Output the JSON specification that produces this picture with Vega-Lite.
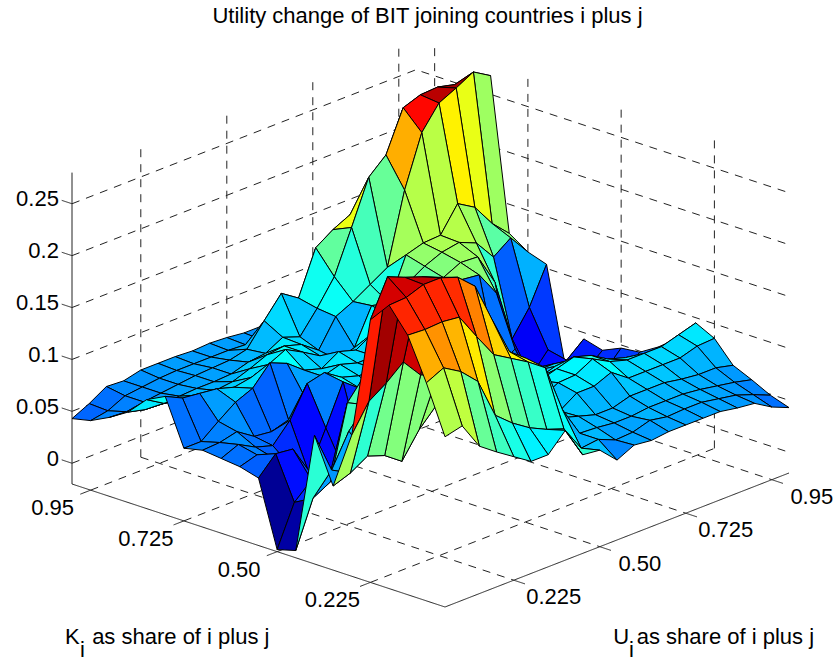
{"$schema":"https://vega.github.io/schema/vega-lite/v6.json","width":833,"height":661,"autosize":"none","padding":0,"background":"white","view":{"stroke":null},
"title":{"text":"Utility change of BIT joining countries i plus j","font":"Liberation Sans","fontSize":22,"fontWeight":"normal","color":"#000","anchor":"middle","dx":11,"offset":-28},
"datasets":{
"grid":[
{"id":20,"z":0.2},{"id":19,"z":0.18},{"id":18,"z":0.15},{"id":17,"z":0.12},{"id":16,"z":0.1},{"id":15,"z":0.08},{"id":14,"z":0.07},{"id":13,"z":0.06},{"id":12,"z":0.06},{"id":11,"z":0.061},{"id":10,"z":0.061},{"id":9,"z":0.063},{"id":8,"z":0.064},{"id":7,"z":0.063},{"id":6,"z":0.064},{"id":5,"z":0.064},{"id":4,"z":0.064},{"id":3,"z":0.06},{"id":2,"z":0.061},{"id":1,"z":0.051},{"id":0,"z":0.043},
{"id":120,"z":0.19},{"id":119,"z":0.18},{"id":118,"z":0.17},{"id":117,"z":0.14},{"id":116,"z":0.12},{"id":115,"z":0.1},{"id":114,"z":0.09},{"id":113,"z":0.08},{"id":112,"z":0.07},{"id":111,"z":0.056},{"id":110,"z":0.06},{"id":109,"z":0.062},{"id":108,"z":0.063},{"id":107,"z":0.063},{"id":106,"z":0.063},{"id":105,"z":0.063},{"id":104,"z":0.062},{"id":103,"z":0.06},{"id":102,"z":0.058},{"id":101,"z":0.05},{"id":100,"z":0.047},
{"id":220,"z":0.24},{"id":219,"z":0.24},{"id":218,"z":0.24},{"id":217,"z":0.22},{"id":216,"z":0.2},{"id":215,"z":0.18},{"id":214,"z":0.161},{"id":213,"z":0.153},{"id":212,"z":0.142},{"id":211,"z":0.1},{"id":210,"z":0.111},{"id":209,"z":0.091},{"id":208,"z":0.07},{"id":207,"z":0.066},{"id":206,"z":0.065},{"id":205,"z":0.064},{"id":204,"z":0.062},{"id":203,"z":0.06},{"id":202,"z":0.058},{"id":201,"z":0.055},{"id":200,"z":0.056},
{"id":320,"z":0.256},{"id":319,"z":0.26},{"id":318,"z":0.264},{"id":317,"z":0.263},{"id":316,"z":0.257},{"id":315,"z":0.218},{"id":314,"z":0.203},{"id":313,"z":0.161},{"id":312,"z":0.12},{"id":311,"z":0.096},{"id":310,"z":0.075},{"id":309,"z":0.081},{"id":308,"z":0.072},{"id":307,"z":0.07},{"id":306,"z":0.065},{"id":305,"z":0.064},{"id":304,"z":0.064},{"id":303,"z":0.063},{"id":302,"z":0.062},{"id":301,"z":0.063},{"id":300,"z":0.067},
{"id":420,"z":0.268},{"id":419,"z":0.278},{"id":418,"z":0.269},{"id":417,"z":0.261},{"id":416,"z":0.239},{"id":415,"z":0.19},{"id":414,"z":0.122},{"id":413,"z":0.112},{"id":412,"z":0.102},{"id":411,"z":0.094},{"id":410,"z":0.068},{"id":409,"z":0.08},{"id":408,"z":0.085},{"id":407,"z":0.083},{"id":406,"z":0.076},{"id":405,"z":0.07},{"id":404,"z":0.068},{"id":403,"z":0.07},{"id":402,"z":0.072},{"id":401,"z":0.075},{"id":400,"z":0.085},
{"id":520,"z":0.122},{"id":519,"z":0.138},{"id":518,"z":0.16},{"id":517,"z":0.17},{"id":516,"z":0.146},{"id":515,"z":0.145},{"id":514,"z":0.14},{"id":513,"z":0.1},{"id":512,"z":0.104},{"id":511,"z":0.07},{"id":510,"z":0.065},{"id":509,"z":0.075},{"id":508,"z":0.085},{"id":507,"z":0.094},{"id":506,"z":0.086},{"id":505,"z":0.08},{"id":504,"z":0.077},{"id":503,"z":0.082},{"id":502,"z":0.084},{"id":501,"z":0.086},{"id":500,"z":0.094},
{"id":620,"z":0.11},{"id":619,"z":0.13},{"id":618,"z":0.118},{"id":617,"z":0.138},{"id":616,"z":0.145},{"id":615,"z":0.142},{"id":614,"z":0.135},{"id":613,"z":0.125},{"id":612,"z":0.1},{"id":611,"z":0.09},{"id":610,"z":0.08},{"id":609,"z":0.085},{"id":608,"z":0.075},{"id":607,"z":0.08},{"id":606,"z":0.093},{"id":605,"z":0.1},{"id":604,"z":0.082},{"id":603,"z":0.075},{"id":602,"z":0.063},{"id":601,"z":0.05},{"id":600,"z":0.05},
{"id":720,"z":0.104},{"id":719,"z":0.069},{"id":718,"z":0.045},{"id":717,"z":0.106},{"id":716,"z":0.137},{"id":715,"z":0.138},{"id":714,"z":0.13},{"id":713,"z":0.12},{"id":712,"z":0.1},{"id":711,"z":0.09},{"id":710,"z":0.08},{"id":709,"z":0.08},{"id":708,"z":0.085},{"id":707,"z":0.08},{"id":706,"z":0.065},{"id":705,"z":0.051},{"id":704,"z":0.046},{"id":703,"z":0.048},{"id":702,"z":0.059},{"id":701,"z":0.055},{"id":700,"z":0.054},
{"id":820,"z":0.013},{"id":819,"z":0.034},{"id":818,"z":0.015},{"id":817,"z":0.02},{"id":816,"z":0.108},{"id":815,"z":0.132},{"id":814,"z":0.134},{"id":813,"z":0.12},{"id":812,"z":0.09},{"id":811,"z":0.085},{"id":810,"z":0.08},{"id":809,"z":0.08},{"id":808,"z":0.08},{"id":807,"z":0.085},{"id":806,"z":0.096},{"id":805,"z":0.092},{"id":804,"z":0.063},{"id":803,"z":0.045},{"id":802,"z":0.05},{"id":801,"z":0.059},{"id":800,"z":0.052},
{"id":920,"z":0.044},{"id":919,"z":0.03},{"id":918,"z":0.02},{"id":917,"z":0.02},{"id":916,"z":0.06},{"id":915,"z":0.05},{"id":914,"z":0.05},{"id":913,"z":0.06},{"id":912,"z":0.07},{"id":911,"z":0.07},{"id":910,"z":0.07},{"id":909,"z":0.07},{"id":908,"z":0.07},{"id":907,"z":0.08},{"id":906,"z":0.093},{"id":905,"z":0.055},{"id":904,"z":0.019},{"id":903,"z":0.03},{"id":902,"z":0.045},{"id":901,"z":0.055},{"id":900,"z":0.05},
{"id":1020,"z":0.039},{"id":1019,"z":0.025},{"id":1018,"z":0.02},{"id":1017,"z":0.02},{"id":1016,"z":0.03},{"id":1015,"z":0.05},{"id":1014,"z":0.06},{"id":1013,"z":0.06},{"id":1012,"z":0.06},{"id":1011,"z":0.06},{"id":1010,"z":0.06},{"id":1009,"z":0.06},{"id":1008,"z":0.06},{"id":1007,"z":0.05},{"id":1006,"z":0.03},{"id":1005,"z":0.02},{"id":1004,"z":0.02},{"id":1003,"z":0.031},{"id":1002,"z":0.06},{"id":1001,"z":0.062},{"id":1000,"z":0.045},
{"id":1120,"z":0.047},{"id":1119,"z":0.03},{"id":1118,"z":0.03},{"id":1117,"z":0.04},{"id":1116,"z":0.05},{"id":1115,"z":0.06},{"id":1114,"z":0.07},{"id":1113,"z":0.07},{"id":1112,"z":0.07},{"id":1111,"z":0.07},{"id":1110,"z":0.07},{"id":1109,"z":0.08},{"id":1108,"z":0.09},{"id":1107,"z":0.09},{"id":1106,"z":0.08},{"id":1105,"z":0.06},{"id":1104,"z":0.04},{"id":1103,"z":0.03},{"id":1102,"z":0.036},{"id":1101,"z":0.021},{"id":1100,"z":-0.018},
{"id":1220,"z":0.049},{"id":1219,"z":0.035},{"id":1218,"z":0.04},{"id":1217,"z":0.05},{"id":1216,"z":0.06},{"id":1215,"z":0.07},{"id":1214,"z":0.07},{"id":1213,"z":0.07},{"id":1212,"z":0.08},{"id":1211,"z":0.08},{"id":1210,"z":0.08},{"id":1209,"z":0.08},{"id":1208,"z":0.09},{"id":1207,"z":0.1},{"id":1206,"z":0.12},{"id":1205,"z":0.13},{"id":1204,"z":0.13},{"id":1203,"z":0.11},{"id":1202,"z":0.04},{"id":1201,"z":0.031},{"id":1200,"z":-0.013},
{"id":1320,"z":0.06},{"id":1319,"z":0.05},{"id":1318,"z":0.05},{"id":1317,"z":0.06},{"id":1316,"z":0.07},{"id":1315,"z":0.08},{"id":1314,"z":0.08},{"id":1313,"z":0.075},{"id":1312,"z":0.08},{"id":1311,"z":0.08},{"id":1310,"z":0.08},{"id":1309,"z":0.08},{"id":1308,"z":0.09},{"id":1307,"z":0.1},{"id":1306,"z":0.12},{"id":1305,"z":0.13},{"id":1304,"z":0.13},{"id":1303,"z":0.114},{"id":1302,"z":0.095,"c":0.11},{"id":1301,"z":0.064},{"id":1300,"z":0.104},
{"id":1420,"z":0.074},{"id":1419,"z":0.07},{"id":1418,"z":0.07},{"id":1417,"z":0.075},{"id":1416,"z":0.08},{"id":1415,"z":0.09},{"id":1414,"z":0.095},{"id":1413,"z":0.09},{"id":1412,"z":0.085},{"id":1411,"z":0.08},{"id":1410,"z":0.08},{"id":1409,"z":0.08},{"id":1408,"z":0.09},{"id":1407,"z":0.1},{"id":1406,"z":0.1},{"id":1405,"z":0.083},{"id":1404,"z":0.059},{"id":1403,"z":0.071},{"id":1402,"z":0.077},{"id":1401,"z":0.067},{"id":1400,"z":0.061},
{"id":1520,"z":0.095},{"id":1519,"z":0.09},{"id":1518,"z":0.085},{"id":1517,"z":0.085},{"id":1516,"z":0.085},{"id":1515,"z":0.09},{"id":1514,"z":0.099},{"id":1513,"z":0.09},{"id":1512,"z":0.089},{"id":1511,"z":0.08},{"id":1510,"z":0.08},{"id":1509,"z":0.08},{"id":1508,"z":0.09},{"id":1507,"z":0.1},{"id":1506,"z":0.12},
{"id":1620,"z":0.086},{"id":1619,"z":0.085},{"id":1618,"z":0.08},{"id":1617,"z":0.08},{"id":1616,"z":0.08},{"id":1615,"z":0.08},{"id":1614,"z":0.092},{"id":1613,"z":0.085},{"id":1612,"z":0.085},{"id":1611,"z":0.074},{"id":1610,"z":0.08},{"id":1609,"z":0.085},{"id":1608,"z":0.1},{"id":1607,"z":0.12},{"id":1606,"z":0.2},{"id":1605,"z":0.24},{"id":1604,"z":0.248},{"id":1603,"z":0.255},{"id":1602,"z":0.261},{"id":1601,"z":0.268},{"id":1600,"z":0.233},
{"id":1505,"z":0.142,"c":0.135},{"id":1504,"z":0.148,"c":0.13},{"id":1503,"z":0.167,"c":0.13},{"id":1502,"z":0.153,"c":0.125},{"id":1501,"z":0.142,"c":0.105},{"id":1500,"z":0.116,"c":0.14},
{"id":1720,"z":0.066},{"id":1719,"z":0.07},{"id":1718,"z":0.07},{"id":1717,"z":0.072},{"id":1716,"z":0.075},{"id":1715,"z":0.075},{"id":1714,"z":0.075},{"id":1713,"z":0.07},{"id":1712,"z":0.07},{"id":1711,"z":0.075},{"id":1710,"z":0.08},{"id":1709,"z":0.12},{"id":1708,"z":0.15},{"id":1707,"z":0.163},{"id":1706,"z":0.2},{"id":1705,"z":0.239},{"id":1704,"z":0.254},{"id":1703,"z":0.26},{"id":1702,"z":0.26},{"id":1701,"z":0.254},{"id":1700,"z":0.253},
{"id":1820,"z":0.058},{"id":1819,"z":0.062},{"id":1818,"z":0.065},{"id":1817,"z":0.068},{"id":1816,"z":0.07},{"id":1815,"z":0.07},{"id":1814,"z":0.07},{"id":1813,"z":0.068},{"id":1812,"z":0.068},{"id":1811,"z":0.07},{"id":1810,"z":0.071},{"id":1809,"z":0.1},{"id":1808,"z":0.147},{"id":1807,"z":0.159},{"id":1806,"z":0.169},{"id":1805,"z":0.179},{"id":1804,"z":0.203},{"id":1803,"z":0.228},{"id":1802,"z":0.23},{"id":1801,"z":0.229},{"id":1800,"z":0.23},
{"id":1920,"z":0.049},{"id":1919,"z":0.056},{"id":1918,"z":0.062},{"id":1917,"z":0.065},{"id":1916,"z":0.068},{"id":1915,"z":0.068},{"id":1914,"z":0.067},{"id":1913,"z":0.07},{"id":1912,"z":0.065},{"id":1911,"z":0.064},{"id":1910,"z":0.071},{"id":1909,"z":0.069},{"id":1908,"z":0.094},{"id":1907,"z":0.1},{"id":1906,"z":0.108},{"id":1905,"z":0.119},{"id":1904,"z":0.133},{"id":1903,"z":0.172},{"id":1902,"z":0.188},{"id":1901,"z":0.198},{"id":1900,"z":0.19},
{"id":2020,"z":0.043},{"id":2019,"z":0.05},{"id":2018,"z":0.06},{"id":2017,"z":0.062},{"id":2016,"z":0.065},{"id":2015,"z":0.065},{"id":2014,"z":0.065},{"id":2013,"z":0.065},{"id":2012,"z":0.063},{"id":2011,"z":0.065},{"id":2010,"z":0.057},{"id":2009,"z":0.073},{"id":2008,"z":0.075,"c":0.105},{"id":2007,"z":0.105},{"id":2006,"z":0.088},{"id":2005,"z":0.088},{"id":2004,"z":0.099},{"id":2003,"z":0.11},{"id":2002,"z":0.122},{"id":2001,"z":0.148},{"id":2000,"z":0.144}
],
"frame":[
{"l":"fa1","s":"d","a":1,"b":0,"z":-0.02},{"l":"fa1","s":"d","a":1,"b":20,"z":-0.02},
{"l":"fa6","s":"d","a":6,"b":0,"z":-0.02},{"l":"fa6","s":"d","a":6,"b":20,"z":-0.02},
{"l":"fa11","s":"d","a":11,"b":0,"z":-0.02},{"l":"fa11","s":"d","a":11,"b":20,"z":-0.02},
{"l":"fa16","s":"d","a":16,"b":0,"z":-0.02},{"l":"fa16","s":"d","a":16,"b":20,"z":-0.02},
{"l":"fb4","s":"d","a":0,"b":4,"z":-0.02},{"l":"fb4","s":"d","a":20,"b":4,"z":-0.02},
{"l":"fb9","s":"d","a":0,"b":9,"z":-0.02},{"l":"fb9","s":"d","a":20,"b":9,"z":-0.02},
{"l":"fb14","s":"d","a":0,"b":14,"z":-0.02},{"l":"fb14","s":"d","a":20,"b":14,"z":-0.02},
{"l":"fb19","s":"d","a":0,"b":19,"z":-0.02},{"l":"fb19","s":"d","a":20,"b":19,"z":-0.02},
{"l":"vb4","s":"d","a":0,"b":4,"z":-0.02},{"l":"vb4","s":"d","a":0,"b":4,"z":0.28},
{"l":"vb9","s":"d","a":0,"b":9,"z":-0.02},{"l":"vb9","s":"d","a":0,"b":9,"z":0.28},
{"l":"vb14","s":"d","a":0,"b":14,"z":-0.02},{"l":"vb14","s":"d","a":0,"b":14,"z":0.28},
{"l":"vb19","s":"d","a":0,"b":19,"z":-0.02},{"l":"vb19","s":"d","a":0,"b":19,"z":0.28},
{"l":"va1","s":"d","a":1,"b":20,"z":-0.02},{"l":"va1","s":"d","a":1,"b":20,"z":0.28},
{"l":"va6","s":"d","a":6,"b":20,"z":-0.02},{"l":"va6","s":"d","a":6,"b":20,"z":0.28},
{"l":"va11","s":"d","a":11,"b":20,"z":-0.02},{"l":"va11","s":"d","a":11,"b":20,"z":0.28},
{"l":"va16","s":"d","a":16,"b":20,"z":-0.02},{"l":"va16","s":"d","a":16,"b":20,"z":0.28},
{"l":"h0","s":"d","a":0,"b":0,"z":0},{"l":"h0","s":"d","a":0,"b":20,"z":0},{"l":"h0","s":"d","a":20,"b":20,"z":0},
{"l":"h1","s":"d","a":0,"b":0,"z":0.05},{"l":"h1","s":"d","a":0,"b":20,"z":0.05},{"l":"h1","s":"d","a":20,"b":20,"z":0.05},
{"l":"h2","s":"d","a":0,"b":0,"z":0.1},{"l":"h2","s":"d","a":0,"b":20,"z":0.1},{"l":"h2","s":"d","a":20,"b":20,"z":0.1},
{"l":"h3","s":"d","a":0,"b":0,"z":0.15},{"l":"h3","s":"d","a":0,"b":20,"z":0.15},{"l":"h3","s":"d","a":20,"b":20,"z":0.15},
{"l":"h4","s":"d","a":0,"b":0,"z":0.2},{"l":"h4","s":"d","a":0,"b":20,"z":0.2},{"l":"h4","s":"d","a":20,"b":20,"z":0.2},
{"l":"h5","s":"d","a":0,"b":0,"z":0.25},{"l":"h5","s":"d","a":0,"b":20,"z":0.25},{"l":"h5","s":"d","a":20,"b":20,"z":0.25},
{"l":"zaxis","s":"s","a":0,"b":0,"z":-0.02},{"l":"zaxis","s":"s","a":0,"b":0,"z":0.28},
{"l":"edge","s":"s","a":0,"b":0,"z":-0.02},{"l":"edge","s":"s","a":20,"b":0,"z":-0.02},{"l":"edge","s":"s","a":20,"b":20,"z":-0.02},
{"l":"tz0","s":"s","a":0,"b":0,"z":0},{"l":"tz0","s":"s","a":-0.55,"b":0,"z":0},
{"l":"tz1","s":"s","a":0,"b":0,"z":0.05},{"l":"tz1","s":"s","a":-0.55,"b":0,"z":0.05},
{"l":"tz2","s":"s","a":0,"b":0,"z":0.1},{"l":"tz2","s":"s","a":-0.55,"b":0,"z":0.1},
{"l":"tz3","s":"s","a":0,"b":0,"z":0.15},{"l":"tz3","s":"s","a":-0.55,"b":0,"z":0.15},
{"l":"tz4","s":"s","a":0,"b":0,"z":0.2},{"l":"tz4","s":"s","a":-0.55,"b":0,"z":0.2},
{"l":"tz5","s":"s","a":0,"b":0,"z":0.25},{"l":"tz5","s":"s","a":-0.55,"b":0,"z":0.25},
{"l":"ta1","s":"s","a":1,"b":0,"z":-0.02},{"l":"ta1","s":"s","a":1,"b":-0.6,"z":-0.02},
{"l":"ta6","s":"s","a":6,"b":0,"z":-0.02},{"l":"ta6","s":"s","a":6,"b":-0.6,"z":-0.02},
{"l":"ta11","s":"s","a":11,"b":0,"z":-0.02},{"l":"ta11","s":"s","a":11,"b":-0.6,"z":-0.02},
{"l":"ta16","s":"s","a":16,"b":0,"z":-0.02},{"l":"ta16","s":"s","a":16,"b":-0.6,"z":-0.02},
{"l":"tb4","s":"s","a":20,"b":4,"z":-0.02},{"l":"tb4","s":"s","a":20.6,"b":4,"z":-0.02},
{"l":"tb9","s":"s","a":20,"b":9,"z":-0.02},{"l":"tb9","s":"s","a":20.6,"b":9,"z":-0.02},
{"l":"tb14","s":"s","a":20,"b":14,"z":-0.02},{"l":"tb14","s":"s","a":20.6,"b":14,"z":-0.02},
{"l":"tb19","s":"s","a":20,"b":19,"z":-0.02},{"l":"tb19","s":"s","a":20.6,"b":19,"z":-0.02}
],
"labels":[
{"k":"r","t":"0","a":-0.7,"b":0,"z":0},{"k":"r","t":"0.05","a":-0.7,"b":0,"z":0.05},{"k":"r","t":"0.1","a":-0.7,"b":0,"z":0.1},{"k":"r","t":"0.15","a":-0.7,"b":0,"z":0.15},{"k":"r","t":"0.2","a":-0.7,"b":0,"z":0.2},{"k":"r","t":"0.25","a":-0.7,"b":0,"z":0.25},
{"k":"c","t":"0.95","a":1.24,"b":-2.47,"z":-0.02},{"k":"c","t":"0.725","a":6.24,"b":-2.47,"z":-0.02},{"k":"c","t":"0.50","a":11.24,"b":-2.47,"z":-0.02},{"k":"c","t":"0.225","a":16.24,"b":-2.47,"z":-0.02},
{"k":"c","t":"0.225","a":22.43,"b":3.69,"z":-0.02},{"k":"c","t":"0.50","a":22.43,"b":8.69,"z":-0.02},{"k":"c","t":"0.725","a":22.43,"b":13.69,"z":-0.02},{"k":"c","t":"0.95","a":22.43,"b":18.69,"z":-0.02},
{"k":"l","t":"K","a":11.2,"b":-12.55,"z":-0.02},{"k":"l","t":"i","a":12.6,"b":-13.2,"z":-0.02},{"k":"l","t":"as share of i plus j","a":11.99,"b":-11.83,"z":-0.02},
{"k":"l","t":"U","a":27.12,"b":2.055,"z":-0.02},{"k":"l","t":"i","a":28.55,"b":1.43,"z":-0.02},{"k":"l","t":"as share of i plus j","a":27.8,"b":2.69,"z":-0.02}
]},
"layer":[
{"data":{"name":"frame"},
"transform":[{"calculate":"72+18.65*datum.a+17.2*datum.b","as":"sx"},{"calculate":"484+6.15*datum.a-6.7*datum.b-(datum.z+0.02)*1038","as":"sy"}],
"mark":{"type":"line","strokeWidth":1,"color":"#222"},
"encoding":{"x":{"field":"sx","type":"quantitative","scale":{"domain":[0,833],"nice":false,"zero":false},"axis":null},
"y":{"field":"sy","type":"quantitative","scale":{"domain":[0,661],"reverse":true,"nice":false,"zero":false},"axis":null},
"detail":{"field":"l"},
"strokeDash":{"field":"s","type":"nominal","scale":{"domain":["d","s"],"range":[[8,7],[1,0]]},"legend":null}}},
{"data":{"name":"grid"},
"transform":[
{"calculate":"floor(datum.id/100)","as":"a"},{"calculate":"datum.id%100","as":"b"},
{"filter":"datum.a>=1&&datum.b<=19"},
{"calculate":"isValid(datum.c)?datum.c:datum.z","as":"shade"},
{"calculate":"[0,1,2,3,4]","as":"corner"},{"flatten":["corner"]},
{"calculate":"datum.a-((datum.corner==0||datum.corner==1||datum.corner==4)?1:0)","as":"ca"},
{"calculate":"datum.b+((datum.corner==1||datum.corner==2)?1:0)","as":"cb"},
{"calculate":"datum.ca*100+datum.cb","as":"cid"},
{"lookup":"cid","from":{"data":{"name":"grid"},"key":"id","fields":["z"]},"as":["zc"]},
{"calculate":"72+18.65*datum.ca+17.2*datum.cb","as":"sx"},
{"calculate":"484+6.15*datum.ca-6.7*datum.cb-(datum.zc+0.02)*1038","as":"sy"}],
"mark":{"type":"line","stroke":"#000","strokeWidth":1,"strokeJoin":"round"},
"encoding":{"x":{"field":"sx","type":"quantitative"},"y":{"field":"sy","type":"quantitative"},
"detail":{"field":"id"},"order":{"field":"corner"},
"fill":{"field":"shade","type":"quantitative","legend":null,"scale":{"domain":[-0.02,0.0172,0.0918,0.1663,0.2408,0.278],"range":["#00008f","#0000ff","#00ffff","#ffff00","#ff0000","#800000"],"interpolate":"rgb"}}}},
{"data":{"name":"labels"},
"transform":[{"filter":"datum.k=='c'"},{"calculate":"72+18.65*datum.a+17.2*datum.b","as":"sx"},{"calculate":"484+6.15*datum.a-6.7*datum.b-(datum.z+0.02)*1038","as":"sy"}],
"mark":{"type":"text","align":"center","baseline":"middle","font":"Liberation Sans","fontSize":22,"color":"#000"},
"encoding":{"x":{"field":"sx","type":"quantitative"},"y":{"field":"sy","type":"quantitative"},"text":{"field":"t"}}},
{"data":{"name":"labels"},
"transform":[{"filter":"datum.k=='r'"},{"calculate":"72+18.65*datum.a+17.2*datum.b","as":"sx"},{"calculate":"484+6.15*datum.a-6.7*datum.b-(datum.z+0.02)*1038","as":"sy"}],
"mark":{"type":"text","align":"right","baseline":"middle","font":"Liberation Sans","fontSize":22,"color":"#000"},
"encoding":{"x":{"field":"sx","type":"quantitative"},"y":{"field":"sy","type":"quantitative"},"text":{"field":"t"}}},
{"data":{"name":"labels"},
"transform":[{"filter":"datum.k=='l'"},{"calculate":"72+18.65*datum.a+17.2*datum.b","as":"sx"},{"calculate":"484+6.15*datum.a-6.7*datum.b-(datum.z+0.02)*1038","as":"sy"}],
"mark":{"type":"text","align":"left","baseline":"middle","font":"Liberation Sans","fontSize":22,"color":"#000"},
"encoding":{"x":{"field":"sx","type":"quantitative"},"y":{"field":"sy","type":"quantitative"},"text":{"field":"t"}}}
]}
